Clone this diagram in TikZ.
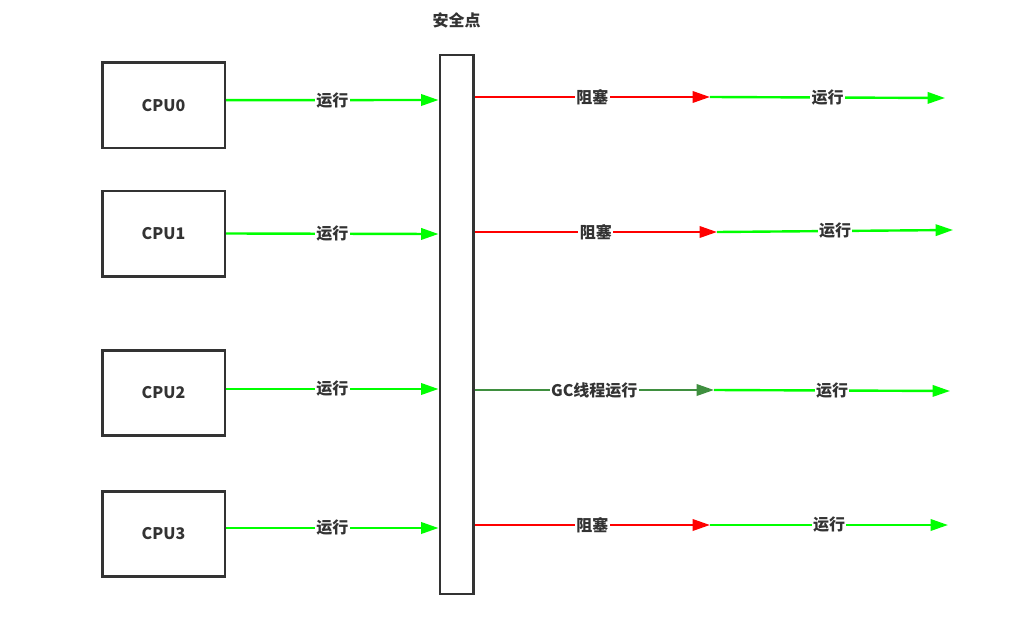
\documentclass[tikz,border=0pt]{standalone}
\usepackage{fontspec}
\setmainfont{Noto Sans CJK SC}
\usepackage{xcolor}
\usetikzlibrary{
  arrows.meta,
  positioning,
  calc
}
\definecolor{runGreen}{HTML}{00FF00}
\definecolor{blockRed}{HTML}{FF0000}
\definecolor{gcGreen}{HTML}{3F8F3F}
\definecolor{boxGray}{HTML}{333333}

\begin{document}
\begin{tikzpicture}[
    x=0.75pt,
    y=-0.75pt,
    >={Triangle[length=13pt,width=8.5pt]},
    cpu/.style={draw=boxGray,line width=2pt,minimum width=92pt,minimum height=64pt,font=\bfseries\fontsize{12}{14}\selectfont,text=boxGray},
    bar/.style={draw=boxGray,line width=2pt,minimum width=25pt,minimum height=404pt,inner sep=0pt},
    lbl/.style={fill=white,inner sep=1pt,font=\bfseries\fontsize{12}{14}\selectfont,text=boxGray},
    run/.style={->,line width=1.8pt,draw=runGreen,color=runGreen},
    block/.style={->,line width=1.8pt,draw=blockRed,color=blockRed},
    gc/.style={->,line width=1.8pt,draw=gcGreen,color=gcGreen}
    ]

    \useasboundingbox (0,0) rectangle (1023,631);

    % CPU
    \node[cpu] (cpu0) at (163.5,105.5) {CPU0};
    \node[cpu] (cpu1) at (163.5,233.5) {CPU1};
    \node[cpu] (cpu2) at (163.5,393) {CPU2};
    \node[cpu] (cpu3) at (163.5,534) {CPU3};

    % 安全点
    \node[bar] (safe) at (456.5,324.5) {};
    \node[lbl,above=18pt of safe.north] (safeLbl) {安全点};

    % 运行 -> 安全点
    \draw[run] ([yshift=4pt]cpu0.east) -- node[lbl]{运行} (safe.west |- 0,100);
    \draw[run] (cpu1.east) -- node[lbl]{运行} (safe.west |- 0,234);
    \draw[run] ([yshift=3pt]cpu2.east) -- node[lbl]{运行} (safe.west |- 0,389);
    \draw[run] ([yshift=4.5pt]cpu3.east) -- node[lbl]{运行} (safe.west |- 0,528);

    % 停顿点
    \coordinate (m0) at (710,97);
    \coordinate (m1) at (717,232);
    \coordinate (m2) at (714,390);
    \coordinate (m3) at (710,525);

    % 终点
    \coordinate (e0) at (945,98);
    \coordinate (e1) at (953,230);
    \coordinate (e2) at (950,391);
    \coordinate (e3) at (948,525);

    % 安全点之后
    \draw[block] (safe.east |- m0) -- node[lbl]{阻塞} (m0);
    \draw[block] (safe.east |- m1) -- node[lbl]{阻塞} (m1);
    \draw[gc] (safe.east |- m2) -- node[lbl]{GC线程运行} (m2);
    \draw[block] (safe.east |- m3) -- node[lbl]{阻塞} (m3);

    \draw[run] (m0) -- node[lbl]{运行} (e0);
    \draw[run] (m1) -- node[lbl]{运行} (e1);
    \draw[run] (m2) -- node[lbl]{运行} (e2);
    \draw[run] (m3) -- node[lbl]{运行} (e3);

\end{tikzpicture}
\end{document}
